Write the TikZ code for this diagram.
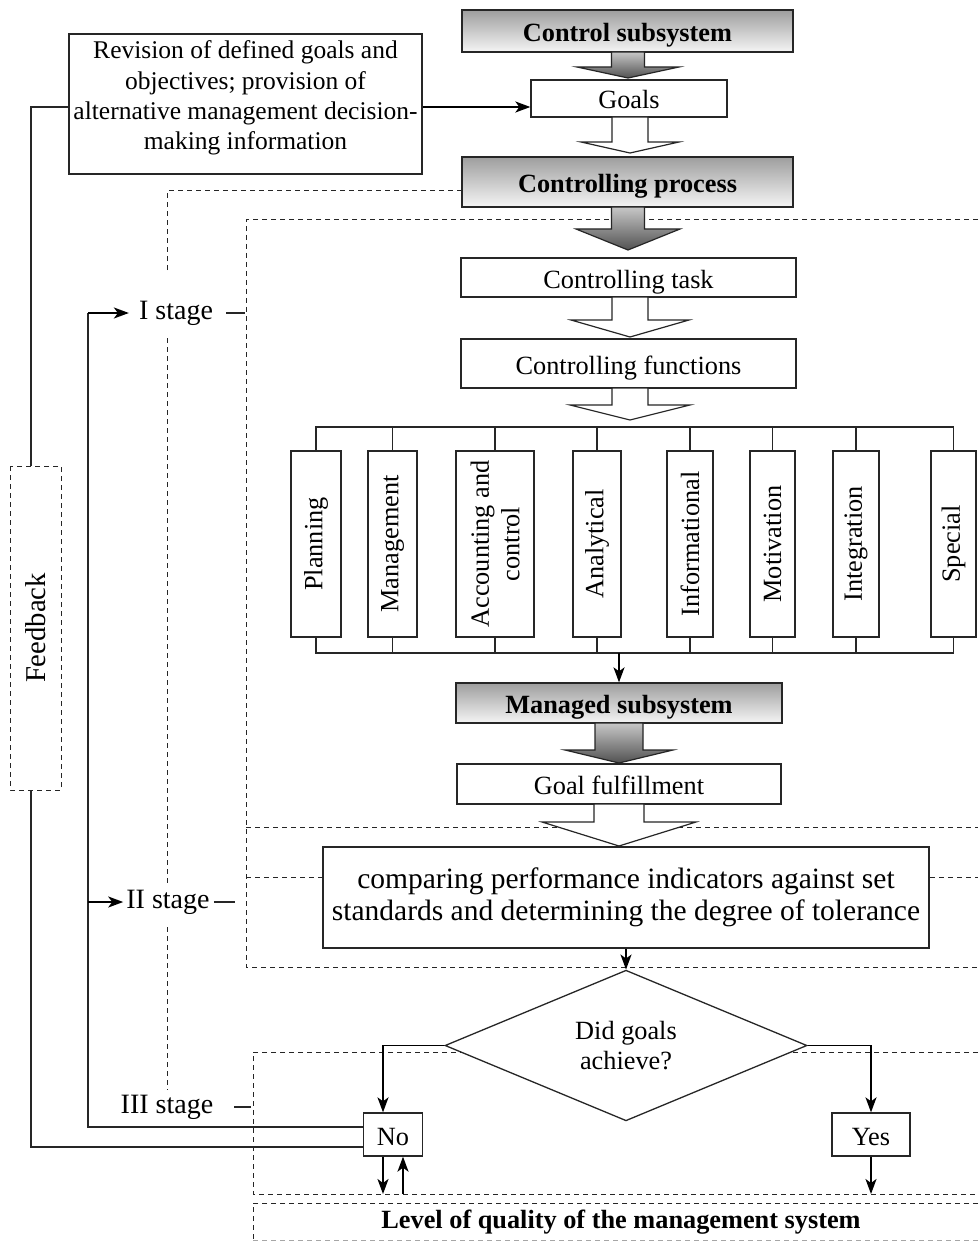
\documentclass[tikz,border=0pt]{standalone}
\usepackage{fontspec}
\setmainfont{Liberation Serif}
\usetikzlibrary{shapes.geometric,arrows.meta,calc}
\newcommand{\blkarrow}[7]{%
  \path[#1] (#2-#6,#3) -- (#2+#6,#3) -- (#2+#6,#4) -- (#2+#7,#4) -- (#2,#5) -- (#2-#7,#4) -- (#2-#6,#4) -- cycle;}
\begin{document}
\begin{tikzpicture}[x=1pt,y=-1pt,
  txt/.style={font=\fontsize{26.3}{30.5}\selectfont},
  ln/.style={draw=black!85, line width=1.3pt},
  box/.style={draw=black!85, line width=1.3pt, fill=white, inner sep=0pt, txt, align=center},
  one/.style={text height=23pt, text depth=2pt},
  gbox/.style={box, one, top color=black!38, bottom color=black!4, font=\fontsize{26.3}{30.5}\selectfont\bfseries},
  bar/.style={box, rotate=90, minimum width=186},
  dsh/.style={draw=black!85, line width=1pt, dash pattern=on 5pt off 4pt},
  arr/.style={draw=black, line width=1.9pt, -{Stealth[length=15pt,width=11pt,inset=4pt]}},
  garrow/.style={draw=black!85, line width=1.2pt, top color=black!22, bottom color=black!68},
  warrow/.style={draw=black!85, line width=1.2pt, fill=white},
  lbl/.style={font=\fontsize{28}{32}\selectfont, inner sep=0pt}]
\useasboundingbox (0,0) rectangle (979,1241);
\fill[white] (0,0) rectangle (979,1241);

% dashed stage frames
\draw[dsh] (167,270) -- (167,191) -- (462,191);
\draw[dsh] (167,338) -- (167,885);
\draw[dsh] (167,927) -- (167,1090);
\draw[dsh] (978,220) -- (246,220) -- (246,967) -- (978,967);
\draw[dsh] (246,827) -- (978,827);
\draw[dsh] (246,877) -- (324,877);
\draw[dsh] (930,877) -- (978,877);
\draw[dsh] (978,1052) -- (253,1052) -- (253,1194) -- (978,1194);
\draw[dsh] (978,1203) -- (253,1203) -- (253,1240);
\draw[dsh, draw=black!35] (253,1240) -- (978,1240);

% main column
\node[gbox, minimum width=331, minimum height=42] (cs) at (627.5,31) {Control subsystem};
\node[box, one, minimum width=196, minimum height=37] (goals) at (629,98.5) {Goals};
\node[box, minimum width=353, minimum height=140] (rev) at (245.5,104) {};
\node[inner sep=0pt, align=center, font=\fontsize{25.5}{30.3}\selectfont] (revt) at (245.5,98) {Revision of defined goals and\\objectives; provision of\\alternative management decision-\\making information};
\node[gbox, minimum width=331, minimum height=50] (cp) at (627.5,182) {Controlling process};
\node[box, one, minimum width=335, minimum height=39] (ct) at (628.5,277.5) {Controlling task};
\node[box, one, minimum width=335, minimum height=49] (cf) at (628.5,363.5) {Controlling functions};

\blkarrow{garrow}{628}{52}{67}{78}{16.5}{51}
\blkarrow{warrow}{630}{117}{142}{153}{18}{49}
\blkarrow{garrow}{628}{207}{229}{250}{16.5}{52}
\blkarrow{warrow}{630}{297}{320}{337}{18}{59}
\blkarrow{warrow}{630}{388}{405}{420}{18}{60}

% function bars
\node[bar, minimum height=50] (pl) at (316,544) {Planning};
\node[bar, minimum height=49] (mg) at (392.5,544) {Management};
\node[bar, minimum height=78] (ac) at (495,544) {Accounting and\\control};
\node[bar, minimum height=48] (an) at (597,544) {Analytical};
\node[bar, minimum height=46] (inf) at (690,544) {Informational};
\node[bar, minimum height=45] (mo) at (772.5,544) {Motivation};
\node[bar, minimum height=46] (ig) at (856,544) {Integration};
\node[bar, minimum height=45] (sp) at (953.5,544) {Special};

\coordinate (bus1) at (0,427);
\coordinate (bus2) at (0,653);
\draw[ln] (pl.east) -- (pl.east |- bus1) -- (sp.east |- bus1) -- (sp.east);
\draw[ln] (pl.west) -- (pl.west |- bus2) -- (sp.west |- bus2) -- (sp.west);
\foreach \b in {mg,ac,an,inf,mo,ig}{
  \draw[ln] (\b.east) -- (\b.east |- bus1);
  \draw[ln] (\b.west) -- (\b.west |- bus2);
}

\node[gbox, minimum width=326, minimum height=40] (ms) at (619,703) {Managed subsystem};
\draw[arr] (ms.north |- bus2) -- (ms.north);
\node[box, one, minimum width=324, minimum height=40] (gf) at (619,784) {Goal fulfillment};
\blkarrow{garrow}{619}{723}{750}{763}{24}{54}

\node[box, minimum width=606, minimum height=101, font=\fontsize{29.5}{32}\selectfont] (cmp) at (626,897.5) {comparing performance indicators against set\\standards and determining the degree of tolerance};
\blkarrow{warrow}{619}{804}{822}{846}{25}{77}

\node[box, diamond, minimum width=362, minimum height=115] (dia) at (626,1045.5) {Did goals\\achieve?};
\draw[arr] (cmp.south) -- (dia.north);

\node[box, one, minimum width=59, minimum height=43] (no) at (393,1134.5) {No};
\node[box, one, minimum width=78, minimum height=43] (yes) at (871,1134.5) {Yes};
\coordinate (b3) at (0,1194);
\draw[arr] (dia.west) -| ([xshift=-10pt]no.north);
\draw[arr] (dia.east) -| (yes.north);
\draw[arr] ([xshift=-10pt]no.south) -- ([xshift=-10pt]no.south |- b3);
\draw[arr] ([xshift=10pt]no.south |- b3) -- ([xshift=10pt]no.south);
\draw[arr] (yes.south) -- (yes.south |- b3);

\node[inner sep=0pt, font=\fontsize{26.3}{30.5}\selectfont\bfseries] (lvl) at (621,1222) {Level of quality of the management system};

% feedback loop
\node[box, rotate=90, minimum width=324, minimum height=51, dsh, font=\fontsize{28.7}{32}\selectfont] (fb) at (35.5,628) {Feedback};
\coordinate (fx) at (31,0);
\coordinate (ix) at (88,0);
\coordinate (yo) at (0,1147);
\coordinate (yi) at (0,1127);
\draw[arr] (rev.east |- 0,107) -- (goals.west |- 0,107);
\draw[ln] (rev.west |- 0,107) -- (fx |- 0,107) -- (fx |- fb.east);
\draw[ln] (fx |- fb.west) -- (fx |- yo) -- (no.west |- yo);

\node[lbl] (s1) at (176,313) {I stage};
\node[lbl] (s2) at (168,902) {II stage};
\node[lbl] (s3) at (167,1107) {III stage};
\draw[ln] (no.west |- yi) -- (ix |- yi) -- (ix |- s1.west);
\draw[arr, shorten >=10pt] (ix |- s1.west) -- (s1.west);
\draw[arr, shorten >=3pt] (ix |- s2.west) -- (s2.west);
\draw[ln] ([xshift=13pt]s1.east) -- ([xshift=32pt]s1.east);
\draw[ln] ([xshift=4pt]s2.east) -- ([xshift=25pt]s2.east);
\draw[ln] ([xshift=21pt]s3.east) -- ([xshift=38pt]s3.east);
\end{tikzpicture}
\end{document}
